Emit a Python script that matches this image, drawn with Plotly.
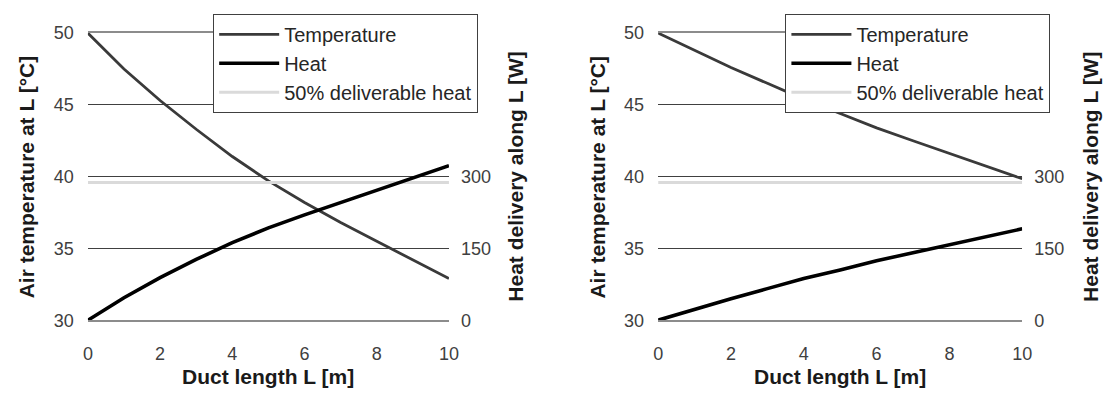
import plotly.graph_objects as go

# ---- data ----
length_m = [0, 1, 2, 3, 4, 5, 6, 7, 8, 9, 10]

temp_a = [50, 47.5, 45.3, 43.3, 41.4, 39.7, 38.2, 36.8, 35.5, 34.2, 32.9]
heat_a = [0, 47, 89, 127, 162, 193, 220, 246, 271, 297, 323]
half_heat_a = 288

temp_b = [50, 48.8, 47.6, 46.5, 45.4, 44.4, 43.4, 42.5, 41.6, 40.7, 39.85]
heat_b = [0, 23, 45, 66, 87, 105, 124, 141, 158, 175, 191]
half_heat_b = 288

x_ticks = [0, 2, 4, 6, 8, 10]
temp_ticks = [30, 35, 40, 45, 50]
heat_ticks = [0, 150, 300]      # 450 and 600 sit behind the legend box
heat_range = [0, 600]

W, H = 1120, 396
FONT = "Arial, Liberation Sans, sans-serif"
TEMP_COLOR = "#3a3a3a"
HEAT_COLOR = "#000000"
HALF_COLOR = "#dadada"

fig = go.Figure()

panels = [
    (temp_a, heat_a, half_heat_a, "x", "y", "y2", "legend"),
    (temp_b, heat_b, half_heat_b, "x2", "y3", "y4", "legend2"),
]
for temp, heat, half, xa, ya, yb, lg in panels:
    fig.add_trace(go.Scatter(x=length_m, y=[half] * len(length_m), xaxis=xa, yaxis=yb,
                             mode="lines", line=dict(color=HALF_COLOR, width=3),
                             name="50% deliverable heat", legend=lg, legendrank=3))
    fig.add_trace(go.Scatter(x=length_m, y=temp, xaxis=xa, yaxis=ya, mode="lines",
                             line=dict(color=TEMP_COLOR, width=2.8),
                             name="Temperature", legend=lg, legendrank=1))
    fig.add_trace(go.Scatter(x=length_m, y=heat, xaxis=xa, yaxis=yb, mode="lines",
                             line=dict(color=HEAT_COLOR, width=3.6),
                             name="Heat", legend=lg, legendrank=2))

def px_x(p):
    return p / W

def px_y(p):
    return 1 - p / H

y_dom = [px_y(326.7), px_y(24.3)]
xa_dom = [px_x(84), px_x(450)]
xb_dom = [px_x(662), px_x(1031)]

tickfont = dict(family=FONT, size=18, color="#404040")

def xaxis(dom, anchor):
    return dict(domain=dom, anchor=anchor, range=[0, 10], tickvals=x_ticks,
                showgrid=False, zeroline=False, showline=True, mirror=True,
                linecolor="#8c8c8c", linewidth=1.5, ticks="", tickfont=tickfont,
                ticklabelstandoff=16)

def yleft(anchor):
    return dict(domain=y_dom, anchor=anchor, range=[30, 50], tickvals=temp_ticks,
                showgrid=True, gridcolor="#404040", gridwidth=1, zeroline=False,
                showline=False, ticks="", tickfont=tickfont, ticklabelstandoff=13)

def yright(anchor, over):
    return dict(domain=y_dom, anchor=anchor, overlaying=over, side="right",
                range=heat_range, tickvals=heat_ticks, showgrid=False, zeroline=False,
                showline=False, ticks="", tickfont=tickfont, ticklabelstandoff=11)

legend_common = dict(bgcolor="white", bordercolor="#404040", borderwidth=1,
                     font=dict(family=FONT, size=20, color="#262626"),
                     xanchor="left", yanchor="top", itemwidth=60,
                     traceorder="normal", tracegroupgap=0,
                     entrywidth=230, entrywidthmode="pixels")

fig.update_layout(
    width=W, height=H,
    margin=dict(l=0, r=0, t=0, b=0),
    paper_bgcolor="white", plot_bgcolor="white",
    xaxis=xaxis(xa_dom, "y"),
    xaxis2=xaxis(xb_dom, "y3"),
    yaxis=yleft("x"),
    yaxis2=yright("x", "y"),
    yaxis3=yleft("x2"),
    yaxis4=yright("x2", "y3"),
    legend=dict(x=px_x(211), y=px_y(4), **legend_common),
    legend2=dict(x=px_x(791), y=px_y(4), **legend_common),
    showlegend=True,
)

title_font = dict(family=FONT, size=21, color="#1a1a1a")
ymid = px_y((24.3 + 326.7) / 2)
annots = [
    dict(text="<b>Air temperature at L [°C]</b>", x=px_x(22), y=ymid, textangle=-90),
    dict(text="<b>Heat delivery along L [W]</b>", x=px_x(518), y=ymid, textangle=-90),
    dict(text="<b>Air temperature at L [°C]</b>", x=px_x(601), y=ymid, textangle=-90),
    dict(text="<b>Heat delivery along L [W]</b>", x=px_x(1100), y=ymid, textangle=-90),
    dict(text="<b>Duct length L [m]</b>", x=px_x(267), y=px_y(386), textangle=0),
    dict(text="<b>Duct length L [m]</b>", x=px_x(846.5), y=px_y(386), textangle=0),
]
for a in annots:
    fig.add_annotation(xref="paper", yref="paper", showarrow=False,
                       xanchor="center", yanchor="middle", font=title_font, **a)

fig.write_html("out.html")
